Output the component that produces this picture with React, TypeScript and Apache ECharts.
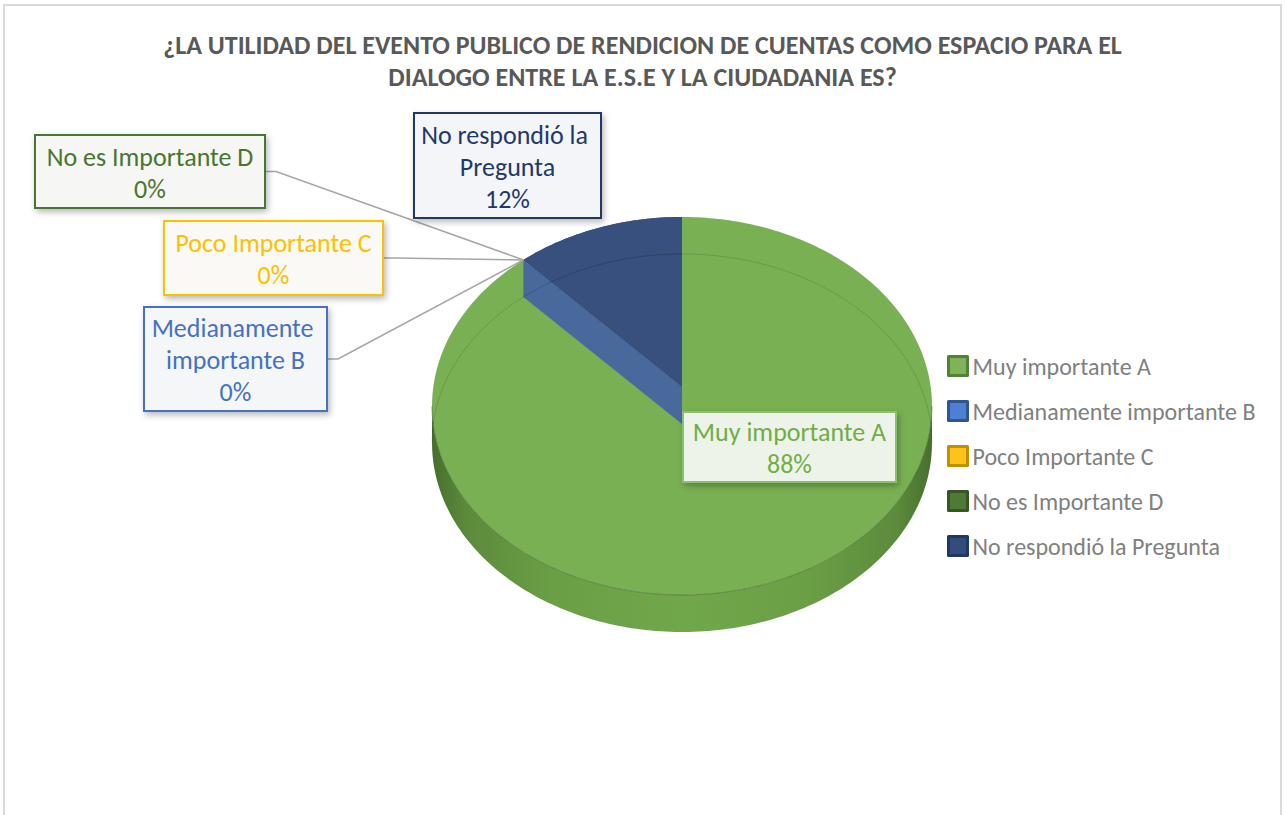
import React, { useEffect, useRef } from "react";
import * as echarts from "echarts";

// ---------- data ----------
const titleText =
  "¿LA UTILIDAD DEL EVENTO PUBLICO DE RENDICION DE CUENTAS COMO ESPACIO PARA EL\nDIALOGO ENTRE LA E.S.E Y LA CIUDADANIA ES?";
const names = [
  "Muy importante A",
  "Medianamente importante B",
  "Poco Importante C",
  "No es Importante D",
  "No respondió la Pregunta",
];
const values = [88, 0, 0, 0, 12];

// ---------- styles ----------
const topColors = ["#79B054", "#4A72B8", "#FFC000", "#43682B", "#37507E"];
const wallColors = ["#6A9C47", "#49699D", "#D9A300", "#3A5A25", "#49699D"];
const labelTextColors = ["#70AD47", "#4472C4", "#FFC000", "#4A7530", "#22386A"];
const labelBorderColors = ["#8CC06A", "#4472C4", "#FFC000", "#4A7530", "#203864"];
const labelFills = ["#EEF3EA", "#F5F6F8", "#FAF9F5", "#F6F6F4", "#F4F5F8"];
const legendInner = ["#7DB45A", "#4F7FCF", "#FFC21A", "#4E7A35", "#344C7C"];
const legendOuter = ["#548235", "#2F5597", "#BF9000", "#375623", "#1F3864"];
const labelBoxes = [
  { x: 683, y: 412, w: 213, h: 70 },
  { x: 144, y: 307, w: 183, h: 104 },
  { x: 164, y: 221, w: 219, h: 74 },
  { x: 35, y: 135, w: 230, h: 73 },
  { x: 414, y: 113, w: 187, h: 105 },
];
const leaderOn = [false, true, true, true, false];
const FONT = "Carlito, Lato, sans-serif";

// 3D pie projection parameters (layout)
const PIE = { cx: 682, cy: 387, sx: 248.7, sy: 187.1, k: 0.1005, t: 37 };

const total = values.reduce((a, b) => a + b, 0);
const startAngles: number[] = [];
{
  let acc = 0;
  values.forEach((v) => {
    startAngles.push((acc / total) * Math.PI * 2);
    acc += v;
  });
}

function proj(theta: number, r: number, h: number): number[] {
  const c = Math.cos(theta);
  const s = Math.sin(theta);
  const w = 1 + PIE.k * r * c;
  return [PIE.cx + (PIE.sx * r * s) / w, PIE.cy - (PIE.sy * r * c) / w + h];
}
function arcPts(a0: number, a1: number, r: number, h: number): number[][] {
  const n = Math.max(2, Math.ceil(Math.abs(a1 - a0) / (Math.PI / 180)));
  const pts: number[][] = [];
  for (let j = 0; j <= n; j++) pts.push(proj(a0 + ((a1 - a0) * j) / n, r, h));
  return pts;
}
const silL = Math.acos(-PIE.k);
const silR = Math.PI * 2 - silL;

export default function App() {
  const ref = useRef<HTMLDivElement>(null);
  useEffect(() => {
    if (!ref.current) return;
    const chart = echarts.init(ref.current, undefined, { renderer: "svg" });

    const renderItem = (params: any, api: any) => {
      const i = params.dataIndex;
      const v = api.value(0);
      const a0 = startAngles[i];
      const a1 = a0 + (v / total) * Math.PI * 2;
      const children: any[] = [];
      if (v > 0) {
        // front side
        const f0 = Math.max(a0, silL);
        const f1 = Math.min(a1, silR);
        if (f1 > f0) {
          const topPts = arcPts(f0, f1, 1, 0);
          const botPts = arcPts(f1, f0, 1, PIE.t);
          children.push({
            type: "polygon",
            z2: 1,
            shape: { points: topPts.concat(botPts) },
            style: {
              fill: {
                type: "linear",
                x: 0,
                y: 0,
                x2: 1,
                y2: 0,
                colorStops: [
                  { offset: 0, color: "#476F2D" },
                  { offset: 0.07, color: "#5C8B3C" },
                  { offset: 0.25, color: "#6B9F46" },
                  { offset: 0.5, color: "#71A74B" },
                  { offset: 0.75, color: "#6B9F46" },
                  { offset: 0.93, color: "#5C8B3C" },
                  { offset: 1, color: "#476F2D" },
                ],
              },
            },
          });
        }
        // top face
        children.push({
          type: "polygon",
          z2: 2,
          shape: { points: [proj(0, 0, 0)].concat(arcPts(a0, a1, 1, 0)) },
          style: { fill: topColors[i] },
        });
        // front rim line
        if (f1 > f0) {
          children.push({
            type: "polyline",
            z2: 3,
            shape: { points: arcPts(f0, f1, 1, 0) },
            style: { stroke: "rgba(60,95,38,0.55)", lineWidth: 1, fill: null },
          });
        }
        // faint back rim of bottom face seen through
        const segs: number[][] = [];
        if (Math.min(a1, silL) > a0) segs.push([a0, Math.min(a1, silL)]);
        if (a1 > Math.max(a0, silR)) segs.push([Math.max(a0, silR), a1]);
        segs.forEach((sg) => {
          children.push({
            type: "polyline",
            z2: 3,
            shape: { points: arcPts(sg[0], sg[1], 1, PIE.t) },
            style: { stroke: "rgba(0,0,0,0.13)", lineWidth: 1, fill: null },
          });
        });
        // radial wall at start angle
        if (a0 > 0) {
          children.push({
            type: "polygon",
            z2: 4,
            shape: {
              points: [proj(a0, 1, 0), proj(0, 0, 0), proj(0, 0, PIE.t), proj(a0, 1, PIE.t)],
            },
            style: { fill: wallColors[i] },
          });
          children.push({
            type: "polygon",
            z2: 5,
            shape: { points: [proj(0, 0, 0)].concat(arcPts(a0, a1, 1, 0)) },
            style: { fill: topColors[i] },
          });
          children.push({
            type: "polyline",
            z2: 6,
            shape: { points: arcPts(a0, a1, 1, PIE.t) },
            style: { stroke: "rgba(0,0,0,0.18)", lineWidth: 1, fill: null },
          });
        }
      }
      // label
      const b = labelBoxes[i];
      const pct = Math.round((v / total) * 100) + "%";
      if (leaderOn[i]) {
        const mid = (a0 + a1) / 2;
        const anchor = proj(mid, 1, 0);
        const ym = b.y + b.h / 2;
        children.push({
          type: "polyline",
          z2: 8,
          shape: { points: [[b.x + b.w, ym], [b.x + b.w + 11, ym], anchor] },
          style: { stroke: "#A6A6A6", lineWidth: 1.5, fill: null },
        });
      }
      children.push({
        type: "rect",
        z2: 10,
        shape: { x: b.x, y: b.y, width: b.w, height: b.h },
        style: {
          fill: labelFills[i],
          stroke: labelBorderColors[i],
          lineWidth: 2,
          shadowBlur: 6,
          shadowOffsetX: 2,
          shadowOffsetY: 3,
          shadowColor: "rgba(0,0,0,0.28)",
        },
      });
      children.push({
        type: "text",
        z2: 11,
        style: {
          text: names[i] + "\n" + pct,
          x: b.x + b.w / 2,
          y: b.y + b.h / 2 + 1,
          fill: labelTextColors[i],
          fontSize: 26,
          fontFamily: FONT,
          align: "center",
          verticalAlign: "middle",
          lineHeight: 32,
          width: b.w,
          overflow: "break",
        },
      });
      return { type: "group", children };
    };

    chart.setOption({
      animation: false,
      backgroundColor: "#FFFFFF",
      graphic: [
        {
          type: "rect",
          shape: { x: 4, y: 5, width: 1277, height: 830 },
          style: { fill: null, stroke: "#D9D9D9", lineWidth: 2 },
          silent: true,
          z: -1,
        },
      ],
      title: {
        text: titleText,
        left: "center",
        top: 24,
        textStyle: {
          fontSize: 26,
          fontWeight: "bold",
          color: "#595959",
          lineHeight: 32,
          fontFamily: FONT,
        },
      },
      legend: {
        orient: "vertical",
        left: 942,
        top: 349,
        icon: "rect",
        itemWidth: 19,
        itemHeight: 19,
        itemGap: 21,
        selectedMode: false,
        textStyle: { color: "#808080", fontSize: 24, lineHeight: 24, fontFamily: FONT },
        data: names.map((n, i) => ({
          name: n,
          itemStyle: { color: legendInner[i], borderColor: legendOuter[i], borderWidth: 3 },
        })),
      },
      series: [
        {
          type: "pie",
          name: "legendSource",
          center: [-400, -400],
          radius: 5,
          silent: true,
          label: { show: false },
          labelLine: { show: false },
          data: names.map((n, i) => ({
            name: n,
            value: values[i],
            itemStyle: { color: legendInner[i] },
          })),
        },
        {
          type: "custom",
          name: "pie3d",
          coordinateSystem: "none",
          silent: true,
          data: values.map((v) => [v]),
          renderItem,
        },
      ],
    });
    return () => chart.dispose();
  }, []);
  return (
    <div
      ref={ref}
      style={{ position: "absolute", left: 0, top: 0, width: 1285, height: 815 }}
    />
  );
}
